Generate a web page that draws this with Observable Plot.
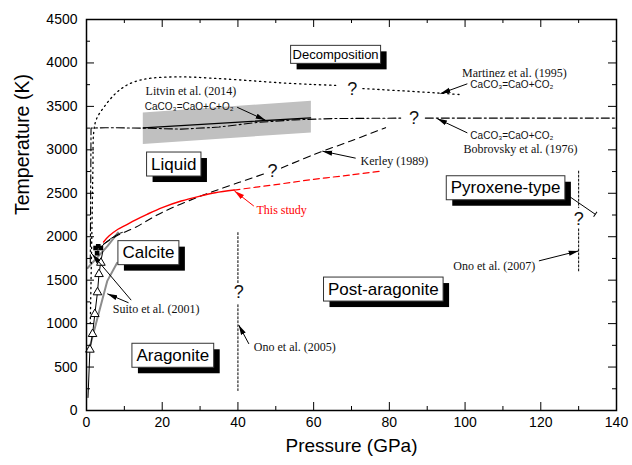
<!DOCTYPE html>
<html><head><meta charset="utf-8">
<script src="https://cdn.jsdelivr.net/npm/d3@7"></script>
<script src="https://cdn.jsdelivr.net/npm/@observablehq/plot@0.6"></script>
<style>body{margin:0;background:#fff} svg{display:block}</style>
</head><body><div id="chart"></div>
<script>
// ---------- tick values ----------
const xMajor = [0, 20, 40, 60, 80, 100, 120, 140];
const xMinor = [10, 30, 50, 70, 90, 110, 130];
const yMajor = [0, 500, 1000, 1500, 2000, 2500, 3000, 3500, 4000, 4500];
const yMinor = [250, 750, 1250, 1750, 2250, 2750, 3250, 3750, 4250];

// ---------- curves [P (GPa), T (K)] ----------
const martinez1 = [[1.0,1000],[1.4,2000],[1.7,2800],[1.9,3200],[2.6,3350],[4.75,3500],[7.8,3654],[10.9,3750],[14,3800],[17,3825],[25,3840],[33,3825],[42,3800],[51,3772],[60,3752],[66,3742]];
const martinez2 = [[73,3705],[85,3675],[93.5,3652],[99,3635]];
const bobrovsky1 = [[1.0,1700],[1.1,2500],[1.2,3250],[5,3255],[15,3250],[25,3238],[35,3262],[45,3315],[55,3345],[65,3360],[83,3365]];
const bobrovsky2 = [[89.5,3365],[140,3365]];
const litvin = [[15,3253],[59.2,3368]];
const litvinBand = [[15,3061,3425],[59.4,3195,3559]];
const kerley1 = [[4.5,1915],[8,2010],[13,2110],[20,2280],[30,2465],[38,2590],[42,2650],[47,2725]];
const kerley2 = [[51.5,2790],[60,2945],[70,3105],[79,3255]];
const thisStudy = [[4.5,1940],[6,2010],[8.3,2086],[10,2125],[13,2195],[16,2258],[20,2335],[25,2411],[30,2468],[34,2506],[39,2537]];
const thisStudyExtrap = [[39,2537],[50,2600],[60,2660],[70,2712],[77.7,2755]];
const calciteMelt = [[3,1840],[5,1930],[8.3,2030],[9.5,2050]];
const suitoGrey1 = [[0.8,720],[5.5,1492],[8.1,1700]];
const suitoGrey2 = [[0.3,1640],[5.6,1894],[8.3,2047]];
const suitoLine = [[0.4,150],[0.9,700],[1.6,880],[2.2,1110],[2.9,1360],[3.3,1570],[3.8,1720],[4.3,1830]];
const suitoTriangles = [[0.9,700],[1.6,880],[2.2,1110],[2.9,1360],[3.3,1570],[3.8,1700]];
const squares = [[2.4,1870],[3.1,1890],[3.8,1870],[2.8,1810]];
const ono2005a = [[40,2047],[40,1455]];
const ono2005b = [[40,1217],[40,230]];
const ono2007a = [[130,2755],[130,2334]];
const ono2007b = [[130,2090],[130,1607]];

// ---------- annotations ----------
const regionNames = ["Liquid","Calcite","Aragonite","Post-aragonite","Pyroxene-type"];
const regionP = [23.05, 16.35, 22.8, 78.4, 110.7];
const regionT = [2836, 1816, 635, 1397, 2563];
const decompName = ["Decomposition"];
const decompP = [65.8];
const decompT = [4095];

const noteText = ["Litvin et al. (2014)","Martinez et al. (1995)","Bobrovsky et al. (1976)","Kerley (1989)","Suito et al. (2001)","Ono et al. (2005)","Ono et al. (2007)"];
const noteP = [15.6, 99.2, 99.6, 72.4, 6.95, 44.2, 96.9];
const noteT = [3672, 3878, 3008, 2870, 1167, 727, 1665];
const studyText = ["This study"];
const studyP = [44.9];
const studyT = [2304];
const formulaText = ["CaCO\u2083=CaO+C+O\u2082","CaCO\u2083=CaO+CO\u2082","CaCO\u2083=CaO+CO\u2082"];
const formulaP = [15.4, 101.4, 101.4];
const formulaT = [3501, 3745, 3160];
const qP = [70.2, 86.5, 49.1, 40.2, 130];
const qT = [3693, 3360, 2755, 1358, 2200];

// arrows: [P1,T1,P2,T2]
const arrowsBlack = [[39.8,3490,47.3,3340],[100.6,3760,93.5,3647],[100.6,3195,92.6,3360],[71.1,2904,62.3,2985],[42.9,766,40.2,985],[119.5,1722,130,1837],[11.1,1240,5.5,1343],[11.8,1270,1.5,1800]];
const arrowsRed = [[44.2,2353,39.1,2526]];
const pyroxeneLeader = [[127.4,2468,134.4,2258]];

// ---------- helpers ----------
const pts = (arr, id) => arr.map(([P, T]) => ({P, T, id}));
const segs = (arr) => arr.map(([x1, y1, x2, y2]) => ({x1, y1, x2, y2}));
const zip = (names, P, T) => names.map((t, i) => ({t, P: P[i], T: T[i]}));

const martinez = [...pts(martinez1, "a"), ...pts(martinez2, "b")];
const bobrovsky = [...pts(bobrovsky1, "a"), ...pts(bobrovsky2, "b")];
const kerley = [...pts(kerley1, "a"), ...pts(kerley2, "b")];
const ono = [...pts(ono2005a, "a"), ...pts(ono2005b, "b"), ...pts(ono2007a, "c"), ...pts(ono2007b, "d")];
const grey = [...pts(suitoGrey1, "a"), ...pts(suitoGrey2, "b")];
const band = litvinBand.map(([P, lo, hi]) => ({P, lo, hi}));

const sans = "Liberation Sans, Arial, sans-serif";
const serif = "Liberation Serif, Times New Roman, serif";

const chart = Plot.plot({
  width: 632, height: 465,
  marginLeft: 86, marginRight: 16, marginTop: 19, marginBottom: 55,
  x: {domain: [0, 140]},
  y: {domain: [0, 4500]},
  style: {fontFamily: sans, fontSize: "14px", background: "white", color: "black"},
  marks: [
    Plot.areaY(band, {x: "P", y1: "lo", y2: "hi", fill: "#c0c0c0"}),
    Plot.line(grey, {x: "P", y: "T", z: "id", stroke: "#8c8c8c", strokeWidth: 2}),
    Plot.line(pts(suitoLine, "s"), {x: "P", y: "T", stroke: "black", strokeWidth: 1}),
    Plot.line(martinez, {x: "P", y: "T", z: "id", curve: "catmull-rom", stroke: "black", strokeWidth: 1.3, strokeDasharray: "1.3,3.7"}),
    Plot.line(bobrovsky, {x: "P", y: "T", z: "id", stroke: "black", strokeWidth: 1.1, strokeDasharray: "8,3,2,3"}),
    Plot.line(pts(litvin, "l"), {x: "P", y: "T", stroke: "black", strokeWidth: 1.3}),
    Plot.line(kerley, {x: "P", y: "T", z: "id", curve: "catmull-rom", stroke: "black", strokeWidth: 1.1, strokeDasharray: "7,5"}),
    Plot.line(pts(calciteMelt, "c"), {x: "P", y: "T", curve: "catmull-rom", stroke: "black", strokeWidth: 1}),
    Plot.line(pts(thisStudy, "r"), {x: "P", y: "T", curve: "catmull-rom", stroke: "red", strokeWidth: 1.4}),
    Plot.line(pts(thisStudyExtrap, "r"), {x: "P", y: "T", curve: "catmull-rom", stroke: "red", strokeWidth: 1.2, strokeDasharray: "6,4"}),
    Plot.line(ono, {x: "P", y: "T", z: "id", stroke: "black", strokeWidth: 1, strokeDasharray: "2,2"}),
    Plot.dot(pts(suitoTriangles, "t"), {x: "P", y: "T", symbol: "triangle", r: 3.2, stroke: "black", fill: "white", strokeWidth: 1}),
    Plot.dot(pts(squares, "q"), {x: "P", y: "T", symbol: "square", r: 2.6, fill: "black"}),
    Plot.link(segs(arrowsBlack), {x1: "x1", y1: "y1", x2: "x2", y2: "y2", stroke: "black", strokeWidth: 1, className: "arrk"}),
    Plot.link(segs(arrowsRed), {x1: "x1", y1: "y1", x2: "x2", y2: "y2", stroke: "red", strokeWidth: 1, className: "arrr"}),
    Plot.link(segs(pyroxeneLeader), {x1: "x1", y1: "y1", x2: "x2", y2: "y2", stroke: "black", strokeWidth: 1, markerEnd: "tick"}),
    Plot.text(zip(noteText, noteP, noteT), {x: "P", y: "T", text: "t", textAnchor: "start", fontFamily: serif, fontSize: 12, fill: "#111"}),
    Plot.text(zip(studyText, studyP, studyT), {x: "P", y: "T", text: "t", textAnchor: "start", fontFamily: serif, fontSize: 12, fill: "red"}),
    Plot.text(zip(formulaText, formulaP, formulaT), {x: "P", y: "T", text: "t", textAnchor: "start", fontFamily: sans, fontSize: 10, fill: "#111"}),
    Plot.text(qP.map((P, i) => ({P, T: qT[i]})), {x: "P", y: "T", text: () => "?", fontFamily: sans, fontSize: 18, fill: "#111"}),
    Plot.text(zip(regionNames, regionP, regionT), {x: "P", y: "T", text: "t", fontFamily: sans, fontSize: 17, fill: "black", className: "boxlab"}),
    Plot.text(zip(decompName, decompP, decompT), {x: "P", y: "T", text: "t", fontFamily: sans, fontSize: 13, fill: "black", className: "boxlabs"}),
    // inward ticks on all four sides
    Plot.ruleX(xMajor, {x: d => d, y1: 0, y2: 0, insetBottom: 8, stroke: "black"}),
    Plot.ruleX(xMinor, {x: d => d, y1: 0, y2: 0, insetBottom: 4, stroke: "black"}),
    Plot.ruleX(xMajor, {x: d => d, y1: 4500, y2: 4500, insetTop: 8, stroke: "black"}),
    Plot.ruleX(xMinor, {x: d => d, y1: 4500, y2: 4500, insetTop: 4, stroke: "black"}),
    Plot.ruleY(yMajor, {y: d => d, x1: 0, x2: 0, insetLeft: 8, stroke: "black"}),
    Plot.ruleY(yMinor, {y: d => d, x1: 0, x2: 0, insetLeft: 4, stroke: "black"}),
    Plot.ruleY(yMajor, {y: d => d, x1: 140, x2: 140, insetRight: 8, stroke: "black"}),
    Plot.ruleY(yMinor, {y: d => d, x1: 140, x2: 140, insetRight: 4, stroke: "black"}),
    Plot.frame({stroke: "black", strokeWidth: 1.5}),
    Plot.axisX(xMajor, {tickSize: 0, tickPadding: 7, fontSize: 14, label: null, tickFormat: d => String(d)}),
    Plot.axisY(yMajor, {tickSize: 0, tickPadding: 9, fontSize: 14, label: null, tickFormat: d => String(d)}),
    Plot.text(["Pressure (GPa)"], {frameAnchor: "bottom", dy: 41, fontSize: 19, fontFamily: sans}),
    Plot.text(["Temperature (K)"], {frameAnchor: "left", rotate: -90, dx: -64, fontSize: 19.5, fontFamily: sans})
  ]
});
document.getElementById("chart").append(chart);

// ---------- post-processing: filled arrowheads and shadowed boxes ----------
const NS = "http://www.w3.org/2000/svg";
const defs = document.createElementNS(NS, "defs");
[["ahk", "black"], ["ahr", "red"]].forEach(([id, c]) => {
  const m = document.createElementNS(NS, "marker");
  m.setAttribute("id", id);
  m.setAttribute("viewBox", "-10 -3 10 6");
  m.setAttribute("refX", "0"); m.setAttribute("refY", "0");
  m.setAttribute("markerWidth", "10"); m.setAttribute("markerHeight", "6");
  m.setAttribute("markerUnits", "userSpaceOnUse");
  m.setAttribute("orient", "auto");
  const p = document.createElementNS(NS, "path");
  p.setAttribute("d", "M-10,-2.6L0,0L-10,2.6Z");
  p.setAttribute("fill", c); p.setAttribute("stroke", "none");
  m.append(p); defs.append(m);
});
chart.prepend(defs);
chart.querySelectorAll("g.arrk path").forEach(p => p.setAttribute("marker-end", "url(#ahk)"));
chart.querySelectorAll("g.arrr path").forEach(p => p.setAttribute("marker-end", "url(#ahr)"));

function boxify(sel, padX, padY) {
  chart.querySelectorAll(sel).forEach(t => {
    const b = t.getBBox();
    const tr = t.getAttribute("transform");
    const mk = (dx, fill, stroke) => {
      const r = document.createElementNS(NS, "rect");
      r.setAttribute("x", b.x - padX + dx);
      r.setAttribute("y", b.y - padY + dx);
      r.setAttribute("width", b.width + 2 * padX);
      r.setAttribute("height", b.height + 2 * padY);
      r.setAttribute("fill", fill);
      r.setAttribute("stroke", stroke);
      r.setAttribute("stroke-width", 1);
      if (tr) r.setAttribute("transform", tr);
      t.parentNode.insertBefore(r, t);
    };
    mk(6, "black", "none");
    mk(0, "white", "#333");
  });
}
boxify("g.boxlab text", 4.5, 2.5);
boxify("g.boxlabs text", 2, 1.5);
</script>
</body></html>
